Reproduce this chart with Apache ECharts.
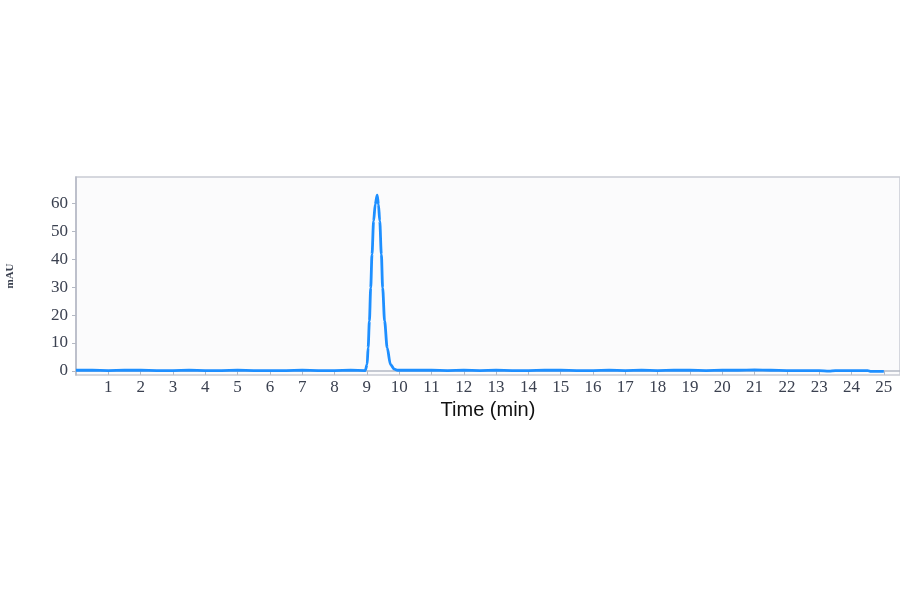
<!DOCTYPE html>
<html>
<head>
<meta charset="utf-8">
<title>Chromatogram</title>
<script src="https://cdn.jsdelivr.net/npm/echarts@6.0.0/dist/echarts.min.js"></script>
<style>
  html, body { margin: 0; padding: 0; background: #ffffff; }
  #root { width: 900px; height: 594px; }
</style>
</head>
<body>
<div id="root"></div>
<script>
// retention time (min) and absorbance (mAU)
const times = [
  0, 0.5, 1, 1.5, 2, 2.5, 3, 3.5, 4, 4.5, 5, 5.5, 6, 6.5, 7, 7.5, 8, 8.5,
  8.95, 9.01, 9.04, 9.08, 9.12, 9.16, 9.21, 9.26, 9.32, 9.36, 9.40, 9.45,
  9.49, 9.55, 9.63, 9.73, 9.85, 9.95,
  10.5, 11, 11.5, 12, 12.5, 13, 13.5, 14, 14.5, 15, 15.5, 16, 16.5, 17,
  17.5, 18, 18.5, 19, 19.5, 20, 20.5, 21, 21.5, 22, 22.5, 23, 23.3, 23.5,
  24, 24.5, 24.6, 25
];
const mAU = [
  0.2, 0.2, 0.1, 0.2, 0.2, 0.1, 0.1, 0.2, 0.1, 0.1, 0.2, 0.1, 0.1, 0.1, 0.2, 0.1, 0.1, 0.2,
  0.1, 2.3, 8.3, 17.9, 29.8, 41.8, 53.8, 59.8, 63.1, 59.8, 53.8, 41.8,
  29.8, 17.9, 8.3, 2.3, 0.6, 0.2,
  0.2, 0.2, 0.1, 0.2, 0.1, 0.2, 0.1, 0.1, 0.2, 0.2, 0.1, 0.1, 0.2, 0.1,
  0.2, 0.1, 0.2, 0.2, 0.1, 0.2, 0.2, 0.3, 0.2, 0.1, 0.1, 0.1, -0.1, 0.1,
  0.1, 0.1, -0.2, -0.2
];
const yTicks = [0, 10, 20, 30, 40, 50, 60];

const axisGray = '#b4b9c4';
const labelColor = '#3b4150';

const chart = echarts.init(document.getElementById('root'));
chart.setOption({
  backgroundColor: '#ffffff',
  animation: false,
  grid: {
    left: 76, top: 177, right: 0, bottom: 219,
    outerBoundsMode: 'none',
    containLabel: false,
    show: true,
    backgroundColor: '#fbfbfc',
    borderColor: '#c9ccd3',
    borderWidth: 1.5
  },
  xAxis: {
    type: 'value',
    min: 0,
    max: 25.5,
    interval: 1,
    name: 'Time (min)',
    nameLocation: 'middle',
    nameGap: 25,
    nameTextStyle: { fontFamily: 'Liberation Sans', fontSize: 20, color: '#111' },
    axisLine: { lineStyle: { color: axisGray, width: 1.5 } },
    axisTick: { length: 4, lineStyle: { color: axisGray } },
    axisLabel: {
      showMinLabel: false,
      showMaxLabel: false,
      margin: 4,
      fontFamily: 'Liberation Serif',
      fontSize: 17,
      color: labelColor
    },
    splitLine: { show: false }
  },
  yAxis: {
    type: 'value',
    min: -1.5,
    max: 69.6,
    name: 'mAU',
    nameLocation: 'middle',
    nameGap: 60,
    nameTextStyle: { fontFamily: 'Liberation Serif', fontSize: 11, fontWeight: 'bold', color: labelColor },
    axisLine: { show: true, lineStyle: { color: axisGray, width: 1.5 } },
    axisTick: { show: true, length: 4, customValues: yTicks, lineStyle: { color: axisGray } },
    axisLabel: {
      customValues: yTicks,
      margin: 8,
      fontFamily: 'Liberation Serif',
      fontSize: 17,
      color: labelColor
    },
    splitLine: { show: false }
  },
  series: [{
    type: 'line',
    data: times.map((t, i) => [t, mAU[i]]),
    showSymbol: false,
    smooth: 0.3,
    smoothMonotone: 'x',
    lineStyle: { color: '#1e8fff', width: 2.8 }
  }]
});
</script>
</body>
</html>
